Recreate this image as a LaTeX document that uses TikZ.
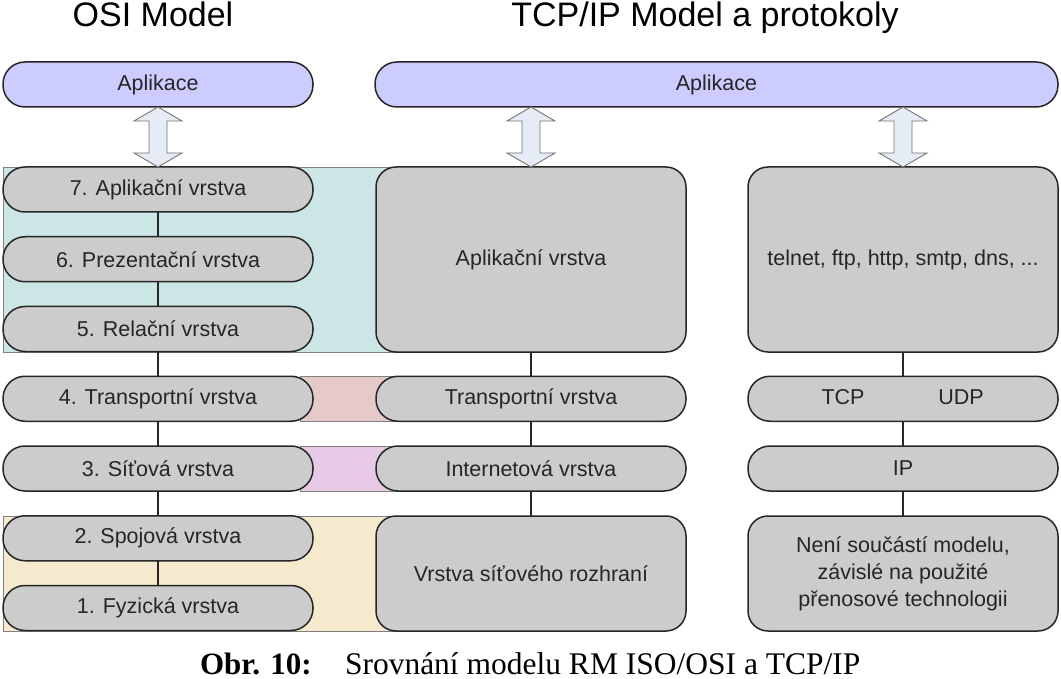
\documentclass[tikz,border=0pt]{standalone}
\usepackage{fontspec}
\setmainfont{Liberation Sans}
\newfontfamily\capfont{Liberation Serif}
\usetikzlibrary{calc}
\definecolor{pillgray}{HTML}{CCCCCC}
\definecolor{appviolet}{HTML}{CCCCFF}
\definecolor{arrowfill}{HTML}{E6ECF6}
\definecolor{bandteal}{HTML}{CCE6E6}
\definecolor{bandpink}{HTML}{E6C9C9}
\definecolor{bandviolet}{HTML}{E6CAE6}
\definecolor{bandtan}{HTML}{F5E9CE}
\definecolor{ink}{HTML}{262626}
\newcommand\dblarrow[2]{\draw[barrow] (#1) -- ++(24,14) -- ++(-15,0) -- ++(0,32) -- ++(15,0) -- (#2) -- ++(-24,-14) -- ++(15,0) -- ++(0,-32) -- ++(-15,0) -- cycle;}
\begin{document}
\begin{tikzpicture}[x=1pt,y=-1pt,
  every node/.style={inner sep=0pt, outer sep=0pt, text=ink},
  base/.style={draw=ink, line width=1.5pt, align=center, font=\fontsize{21.5}{27}\selectfont},
  pill/.style={base, fill=pillgray, rounded corners=22pt, minimum width=310pt, minimum height=45pt},
  apppill/.style={base, fill=appviolet, rounded corners=22pt, minimum height=45pt},
  bigbox/.style={base, fill=pillgray, rounded corners=20pt, minimum width=310pt},
  band/.style={draw=black!50, line width=0.8pt},
  link/.style={draw=ink, line width=1.5pt},
  barrow/.style={draw=black!55, line width=0.9pt, fill=arrowfill, line join=miter},
  title/.style={font=\fontsize{34}{40}\selectfont, text=black, anchor=base}
]
\useasboundingbox (0,0) rectangle (1061,679);
% background bands
\filldraw[band, fill=bandteal] (3,167) rectangle (420,352);
\filldraw[band, fill=bandpink] (300,376) rectangle (420,421);
\filldraw[band, fill=bandviolet] (300,446) rectangle (420,491);
\filldraw[band, fill=bandtan] (3,516) rectangle (420,631);
% titles
\node[title] (tosi) at (153,27) {OSI Model};
\node[title] (ttcp) at (705,27) {TCP/IP Model a protokoly};
% application bars
\node[apppill, minimum width=310pt] (aplL) at (158,84.5) {Aplikace};
\node[apppill, minimum width=683pt] (aplR) at (716.5,84.5) {Aplikace};
% OSI layers
\node[pill] (osi7) at (158,189.5) {7. Aplikační vrstva};
\node[pill] (osi6) at (158,259.25) {6. Prezentační vrstva};
\node[pill] (osi5) at (158,329) {5. Relační vrstva};
\node[pill] (osi4) at (158,398.75) {4. Transportní vrstva};
\node[pill] (osi3) at (158,468.5) {3. Síťová vrstva};
\node[pill] (osi2) at (158,538.25) {2. Spojová vrstva};
\node[pill] (osi1) at (158,608) {1. Fyzická vrstva};
% TCP/IP model
\node[bigbox, minimum height=185pt] (tapl) at (531,259.5) {Aplikační vrstva};
\node[pill] (ttrans) at (531,398.75) {Transportní vrstva};
\node[pill] (tinet) at (531,468.5) {Internetová vrstva};
\node[bigbox, minimum height=115pt] (tlink) at (531,573.5) {Vrstva síťového rozhraní};
% protocols
\node[bigbox, minimum height=185pt] (papl) at (903,259.5) {telnet, ftp, http, smtp, dns, ...};
\node[pill] (ptrans) at (903,398.75) {};
\node[font=\fontsize{21.5}{27}\selectfont] (tcp) at (843,397) {TCP};
\node[font=\fontsize{21.5}{27}\selectfont] (udp) at (961,397) {UDP};
\node[pill] (pip) at (903,468.5) {IP};
\node[bigbox, minimum height=115pt] (plink) at (903,573.5) {Není součástí modelu,\\závislé na použité\\přenosové technologii};
% vertical links
\draw[link] (osi7) -- (osi6);
\draw[link] (osi6) -- (osi5);
\draw[link] (osi5) -- (osi4);
\draw[link] (osi4) -- (osi3);
\draw[link] (osi3) -- (osi2);
\draw[link] (osi2) -- (osi1);
\draw[link] (tapl) -- (ttrans);
\draw[link] (ttrans) -- (tinet);
\draw[link] (tinet) -- (tlink);
\draw[link] (papl) -- (ptrans);
\draw[link] (ptrans) -- (pip);
\draw[link] (pip) -- (plink);
% double arrows
\dblarrow{aplL.south}{osi7.north}
\dblarrow{aplR.south -| tapl.north}{tapl.north}
\dblarrow{aplR.south -| papl.north}{papl.north}
% caption
\node[anchor=base west, font=\capfont\bfseries\fontsize{31}{36}\selectfont, text=black] (obr) at (200,674) {Obr. 10:};
\node[anchor=base west, font=\capfont\fontsize{31.5}{36}\selectfont, text=black] (cap) at (345,674) {Srovnání modelu RM ISO/OSI a TCP/IP};
\end{tikzpicture}
\end{document}
